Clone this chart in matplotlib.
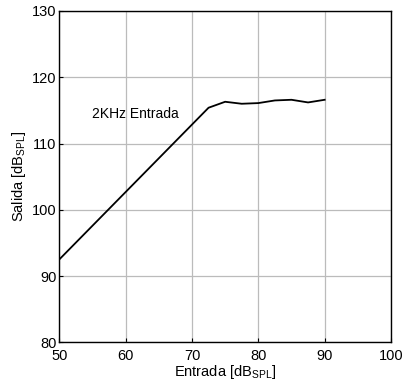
import matplotlib.pyplot as plt

plt.rcParams['font.family'] = ['Liberation Sans', 'DejaVu Sans']
plt.rcParams['mathtext.fontset'] = 'custom'
plt.rcParams['mathtext.rm'] = 'Liberation Sans'
plt.rcParams['mathtext.it'] = 'Liberation Sans'

# Input level vs output level (2 kHz)
entrada = [50, 72.5, 75, 77.5, 80, 82.5, 85, 87.5, 90]
salida = [92.5, 115.4, 116.3, 116.0, 116.1, 116.5, 116.6, 116.2, 116.6]

xticks = [50, 60, 70, 80, 90, 100]
yticks = [80, 90, 100, 110, 120, 130]

fig = plt.figure(figsize=(4.05, 3.83), dpi=100)
ax = fig.add_axes([0.1464, 0.1063, 0.819, 0.865])

ax.plot(entrada, salida, color='black', linewidth=1.3)
ax.text(55, 114.4, '2KHz Entrada', fontsize=10, va='center', ha='left')

ax.set_xlim(50, 100)
ax.set_ylim(80, 130)
ax.set_xticks(xticks)
ax.set_yticks(yticks)
ax.tick_params(direction='in', length=3, labelsize=10.5)
ax.tick_params(axis='x', pad=5)
ax.tick_params(axis='y', pad=2)
ax.grid(True, color='#bbbbbb', linewidth=0.9)
for s in ax.spines.values():
    s.set_linewidth(1.0)

ax.set_xlabel('Entrada [dB$_{\\mathrm{SPL}}$]', fontsize=10.5, labelpad=0)
ax.set_ylabel('Salida [dB$_{\\mathrm{SPL}}$]', fontsize=10.5, labelpad=3)

fig.savefig('out.png', dpi=100)
